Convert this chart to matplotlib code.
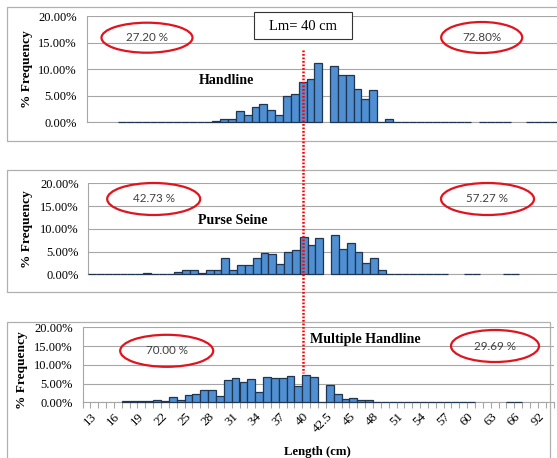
import numpy as np
import matplotlib
matplotlib.use("Agg")
import matplotlib.pyplot as plt
from matplotlib.patches import Ellipse, Rectangle
from matplotlib.lines import Line2D
from matplotlib.transforms import ScaledTranslation

N = None

# length classes (cm) as they are listed on the category axis
length_cm = ([str(v) for v in range(13, 43)] + ["42.5"]
             + [str(v) for v in range(43, 69)] + ["92", "93", "94"])

# % frequency per length class, None = empty class (no bar drawn)
handline = [N, N, N, N, 0, 0, 0, 0, 0, 0, 0, 0, 0, 0, 0, 0,
            0.25, 0.6, 0.6, 2.1, 1.3, 2.9, 3.4, 2.4, 1.3, 5.0, 5.35, 7.55, 8.1, 11.1,
            N, 10.6, 8.9, 8.9, 6.2, 4.4, 6.1, 0, 0.6,
            0, 0, 0, 0, 0, 0, 0, 0, 0, 0, N, 0, 0, 0, 0, N, N, 0, 0, 0, 0]
purse_seine = [0, 0, 0, 0, 0, 0, 0, 0.3, 0, 0, 0,
               0.45, 0.9, 0.9, 0.3, 1.0, 1.0, 3.5, 1.0, 2.0, 2.0, 3.5, 4.6, 4.5, 2.35,
               5.0, 5.3, 8.25, 6.4, 8.0,
               N, 8.6, 5.5, 6.9, 5.0, 2.4, 3.5, 1.0,
               0, 0, 0, 0, 0, 0, 0, 0, N, N, 0, 0, N, N, N, 0, 0, N, N, N, N, N]
multiple_handline = [N, N, N, N, N,
                     0.3, 0.3, 0.3, 0.3, 0.6, 0.3, 1.4, 0.6, 2.0, 2.2, 3.3, 3.3, 1.8,
                     6.0, 6.5, 5.4, 6.1, 2.8, 6.8, 6.4, 6.5, 6.9, 4.4, 7.2, 6.7,
                     0, 4.6, 2.2, 0.8, 1.1, 0.6, 0.6,
                     0.2, 0.2, 0.2, 0.2, 0.2, 0.2, 0.2, 0.2, 0.2, 0.2, 0.2, 0.2, 0.2,
                     N, N, N, N, 0.2, 0.2, N, N, N, N]

gear_names = ["Handline", "Purse Seine", "Multiple Handline"]
below_lm = ["27.20 %", "42.73 %", "70.00 %"]
above_lm = ["72.80%", "57.27 %", "29.69 %"]
yticks = [0, 5, 10, 15, 20]

W, H = 557, 458
fig = plt.figure(figsize=(W / 100, H / 100), dpi=100)

SERIF = "Liberation Serif"
BAR = "#4F8FD2"
EDGE = "#1F3550"
GRID = "#A6A6A6"


def fx(x):
    return x / W


def fy(y):
    return 1 - y / H


def frame(x0, y0, x1, y1):
    fig.add_artist(Rectangle((fx(x0), fy(y1)), fx(x1 - x0), (y1 - y0) / H,
                             transform=fig.transFigure, fill=False,
                             edgecolor="#B0B0B0", linewidth=0.9))


def panel(left, top, right, bottom, values, xlabels=False):
    ax = fig.add_axes([fx(left), fy(bottom), fx(right - left), (bottom - top) / H])
    xs = [i for i, v in enumerate(values) if v is not None]
    hs = [v for v in values if v is not None]
    ax.bar(xs, hs, width=1.0, color=BAR, edgecolor=EDGE, linewidth=0.9,
           zorder=3, clip_on=False)
    ax.set_xlim(-0.5, len(length_cm) - 0.5)
    ax.set_ylim(0, 20)
    ax.set_yticks(yticks)
    ax.set_yticklabels([f"{t:.2f}%" for t in yticks], fontfamily=SERIF, fontsize=9)
    ax.tick_params(axis="y", length=0, pad=7)
    ax.grid(axis="y", color=GRID, linewidth=0.8, zorder=0)
    ax.set_axisbelow(True)
    for s in ["top", "right"]:
        ax.spines[s].set_visible(False)
    for s in ["left", "bottom"]:
        ax.spines[s].set_color(GRID)
        ax.spines[s].set_linewidth(0.8)
        ax.spines[s].set_zorder(1)
    ax.patch.set_alpha(0)
    if xlabels:
        ax.set_xticks(range(0, len(length_cm), 3))
        ax.set_xticklabels(length_cm[::3], rotation=45, ha="right", va="top",
                           rotation_mode="anchor", fontfamily=SERIF, fontsize=9.4)
        ax.set_xticks(np.arange(-0.5, len(length_cm)), minor=True)
        ax.tick_params(axis="x", which="major", length=0, pad=6)
        ax.tick_params(axis="x", which="minor", length=4, color=GRID, width=0.8)
        shift = ScaledTranslation(4 / 100, 0, fig.dpi_scale_trans)
        for lab in ax.get_xticklabels():
            lab.set_transform(lab.get_transform() + shift)
    else:
        ax.set_xticks([])
    return ax


# chart frames
frame(7, 7, 600, 141)
frame(7, 170, 600, 292)
frame(7, 322, 550, 500)

panel(86.7, 16, 557.7, 122.3, handline)
panel(88.3, 183.3, 558.1, 274.3, purse_seine)
panel(82.5, 327.3, 553.5, 402.3, multiple_handline, xlabels=True)

# y labels
for yc in [69, 229, 370]:
    fig.text(fx(27 if yc < 300 else 22), fy(yc), "% Frequency", rotation=90,
             ha="center", va="center", fontfamily=SERIF, fontweight="bold", fontsize=9.6)

fig.text(fx(317.5), fy(451.5), "Length (cm)", ha="center", va="center",
         fontfamily=SERIF, fontweight="bold", fontsize=9.2)

# gear names
for (x, y), name in zip([(226.7, 81), (233, 220.5), (365, 340)], gear_names):
    fig.text(fx(x), fy(y), name, ha="center", va="center",
             fontfamily=SERIF, fontweight="bold", fontsize=10.1)

# percentage ellipses
ell_left = [(147, 37.7, 91, 30), (153.7, 199, 93, 32), (166.7, 350.8, 93, 32)]
ell_right = [(481.7, 37.5, 81, 31), (487.5, 199, 93, 32), (495, 346, 88, 32)]
for (x, y, w, h), txt in zip(ell_left + ell_right, below_lm + above_lm):
    fig.add_artist(Ellipse((fx(x), fy(y)), w / W, h / H, transform=fig.transFigure,
                           fill=False, edgecolor="#E0141E", linewidth=1.6))
    fig.text(fx(x), fy(y), txt, ha="center", va="center", fontfamily="Lato",
             fontsize=8.4, color="#404040")

# Lm box
fig.add_artist(Rectangle((fx(254), fy(39.3)), fx(98), 27 / H, transform=fig.transFigure,
                         facecolor="white", edgecolor="#333333", linewidth=0.8))
fig.text(fx(303), fy(26), "Lm= 40 cm", ha="center", va="center",
         fontfamily=SERIF, fontsize=10.5)

# Lm = 40 cm reference line across the three charts
fig.add_artist(Line2D([fx(302.7), fx(302.7)], [fy(50), fy(373)], transform=fig.transFigure,
                      color="#FF0000", linewidth=1.8, linestyle=(0, (0.7, 0.7))))

fig.savefig("out.png", dpi=100)
